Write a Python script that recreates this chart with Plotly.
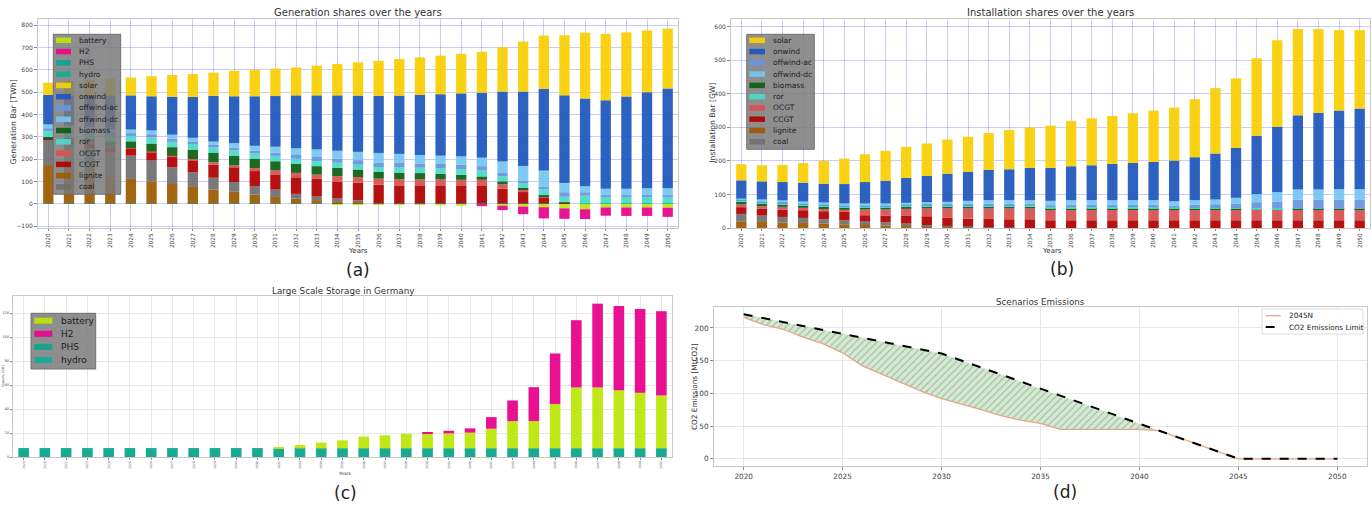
import plotly.graph_objects as go

W, H = 1372, 506
FONT = "DejaVu Sans"

years = ["2020", "2021", "2022", "2023", "2024", "2025", "2026", "2027", "2028", "2029",
         "2030", "2031", "2032", "2033", "2034", "2035", "2036", "2037", "2038", "2039",
         "2040", "2041", "2042", "2043", "2044", "2045", "2046", "2047", "2048", "2049", "2050"]

# ---------------- (a) Generation [TWh] ----------------
gen_battery = [0, 0, 0, 0, 0, 0, 0, 0, 0, 0, 0, 0, 0, 0, -3, -3, -3, -5, -5, -6, -8, -4, -8, -12, -15, -20, -24, -16, -16, -16, -17]
gen_H2 = [0, 0, 0, 0, 0, 0, 0, 0, 0, 0, 0, 0, 0, 0, 0, 0, 0, 0, 0, 0, 0, -6, -20, -34, -50, -47, -44, -37, -38, -38, -41]
gen_PHS = [1, 1, 1, 1, 1, 1, 1, 1, 1, 1, 1, 1, 1, 1, 1, 1, 1, 1, 1, 1, 1, 1, 1, 1, 1, 1, 1, 1, 1, 1, 1]
gen_hydro = [1, 1, 1, 1, 1, 1, 1, 1, 1, 1, 1, 1, 1, 1, 1, 1, 1, 1, 1, 1, 1, 1, 1, 1, 1, 1, 1, 1, 1, 1, 1]
gen_lignite = [172, 158, 143, 123, 110, 99, 87, 74, 62, 52, 40, 29, 22, 15, 7, 4, 0, 0, 0, 0, 0, 0, 0, 0, 0, 0, 0, 0, 0, 0, 0]
gen_coal = [113, 105, 105, 105, 104, 93, 75, 66, 53, 44, 38, 33, 21, 16, 15, 10, 0, 0, 0, 0, 0, 0, 0, 0, 0, 0, 0, 0, 0, 0, 0]
gen_CCGT = [5, 15, 22, 24, 32, 37, 47, 52, 59, 66, 67, 68, 74, 80, 76, 79, 84, 81, 81, 78, 78, 78, 66, 51, 25, 2, 0, 0, 0, 0, 0]
gen_OCGT = [2, 3, 3, 3, 2, 4, 5, 7, 10, 8, 13, 18, 20, 18, 24, 25, 27, 27, 27, 30, 28, 28, 20, 12, 6, 1, 0, 0, 0, 0, 0]
gen_biomass = [6, 12, 18, 23, 30, 35, 38, 42, 42, 44, 41, 41, 40, 38, 37, 34, 30, 30, 28, 25, 22, 15, 13, 8, 6, 2, 0, 0, 0, 0, 0]
gen_ror = [27, 26, 25, 25, 24, 27, 24, 25, 25, 24, 24, 24, 23, 23, 23, 22, 22, 24, 24, 25, 26, 26, 23, 20, 26, 25, 35, 29, 29, 29, 29]
gen_offwind_ac = [12, 12, 12, 12, 13, 15, 14, 12, 11, 12, 13, 15, 17, 18, 18, 20, 20, 20, 19, 19, 19, 20, 15, 12, 11, 20, 15, 11, 11, 11, 11]
gen_offwind_dc = [17, 17, 15, 19, 16, 17, 18, 16, 15, 20, 22, 26, 30, 34, 36, 37, 43, 40, 38, 37, 38, 38, 51, 65, 73, 41, 27, 26, 26, 28, 28]
gen_onwind = [132, 135, 140, 150, 153, 153, 170, 183, 205, 210, 222, 227, 237, 242, 248, 252, 256, 261, 269, 275, 282, 291, 313, 333, 366, 393, 393, 396, 413, 430, 447]
gen_solar = [55, 67, 71, 75, 80, 90, 97, 103, 104, 114, 118, 123, 125, 133, 141, 149, 157, 164, 168, 173, 177, 183, 199, 224, 239, 269, 295, 297, 287, 277, 268]

# ---------------- (b) Installation [GW] ----------------
cap_lignite = [20, 18, 16, 15, 13, 11, 9, 7, 6, 5, 3, 2, 1, 1, 0, 0, 0, 0, 0, 0, 0, 0, 0, 0, 0, 0, 0, 0, 0, 0, 0]
cap_coal = [22, 19, 17, 15, 13, 12, 10, 10, 7, 4, 4, 3, 2, 1, 0, 0, 0, 0, 0, 0, 0, 0, 0, 0, 0, 0, 0, 0, 0, 0, 0]
cap_CCGT = [20, 20, 22, 23, 24, 25, 19, 20, 23, 26, 24, 23, 24, 24, 26, 23, 23, 23, 23, 23, 23, 23, 23, 23, 23, 23, 23, 23, 23, 23, 23]
cap_OCGT = [8, 8, 8, 7, 6, 6, 17, 18, 21, 23, 27, 30, 31, 32, 32, 32, 32, 32, 32, 32, 32, 32, 32, 32, 32, 32, 32, 32, 32, 32, 32]
cap_biomass = [8, 8, 7, 7, 7, 7, 6, 6, 6, 6, 6, 6, 6, 6, 6, 4, 4, 4, 4, 4, 4, 3, 2, 2, 2, 1, 1, 2, 2, 2, 2]
cap_ror = [4, 4, 4, 4, 4, 4, 4, 4, 4, 4, 4, 4, 4, 4, 3, 3, 3, 3, 3, 3, 3, 3, 3, 3, 3, 3, 3, 1, 1, 1, 1]
cap_offwind_ac = [2, 3, 4, 3, 4, 3, 3, 3, 3, 3, 3, 4, 5, 5, 6, 6, 7, 7, 7, 7, 7, 6, 9, 11, 13, 18, 19, 26, 26, 27, 27]
cap_offwind_dc = [4, 5, 5, 5, 5, 5, 5, 5, 5, 6, 7, 9, 10, 10, 10, 13, 14, 14, 14, 14, 14, 13, 14, 14, 17, 24, 29, 31, 31, 31, 31]
cap_onwind = [54, 54, 54, 56, 56, 58, 64, 68, 74, 78, 84, 86, 90, 92, 96, 98, 101, 104, 108, 111, 114, 121, 128, 137, 149, 174, 195, 221, 228, 234, 240]
cap_solar = [48, 48, 51, 59, 68, 76, 83, 89, 93, 97, 102, 105, 110, 117, 121, 126, 135, 140, 143, 148, 153, 158, 173, 195, 207, 231, 258, 257, 250, 240, 234]

# ---------------- (c) Large scale storage ----------------
sto_PHS = [6.2, 6.2, 6.2, 6.2, 6.2, 6.2, 6.2, 6.2, 6.2, 6.2, 6.2, 6.2, 6.2, 6.2, 6.2, 6.2, 6.2, 6.2, 6.2, 6.2, 6.2, 6.2, 6.2, 6.2, 6.2, 6.2, 6.2, 6.2, 6.2, 6.2, 6.2]
sto_hydro = [1.0, 1.0, 1.0, 1.0, 1.0, 1.0, 1.0, 1.0, 1.0, 1.0, 1.0, 1.0, 1.0, 1.0, 1.0, 1.0, 1.0, 1.0, 1.0, 1.0, 1.0, 1.0, 1.0, 1.0, 1.0, 1.0, 1.0, 1.0, 1.0, 1.0, 1.0]
sto_battery = [0, 0, 0, 0, 0, 0, 0, 0, 0, 0, 0, 0, 0.4, 2.8, 4.8, 6.7, 9.8, 10.9, 12.2, 12.5, 12.5, 13.1, 16.4, 22.8, 22.8, 37.0, 50.9, 50.9, 48.6, 46.4, 44.2]
sto_H2 = [0, 0, 0, 0, 0, 0, 0, 0, 0, 0, 0, 0, 0, 0, 0, 0, 0, 0, 0, 0.9, 2.2, 3.6, 9.7, 17.2, 28.3, 42.2, 56.1, 69.9, 70.3, 70.0, 70.3]

# ---------------- (d) Emissions [MtCO2] ----------------
em_years = [2020, 2021, 2022, 2023, 2024, 2025, 2026, 2027, 2028, 2029, 2030, 2031, 2032, 2033, 2034, 2035,
            2036, 2037, 2038, 2039, 2040, 2041, 2042, 2043, 2044, 2045, 2046, 2047, 2048, 2049, 2050]
em_2045N = [216, 205, 198, 186, 176, 162, 142, 129, 116, 103, 92, 84, 75, 66, 59, 54,
            45, 45, 45, 45, 45, 43, 32, 21, 11, 0, 0, 0, 0, 0, 0]
limit_years = [2020, 2025, 2030, 2045, 2050]
limit_values = [221, 191, 161, 0, 0]

COL = {
    "battery": "#bde60a", "H2": "#e8058c", "PHS": "#0ea590", "hydro": "#12ad96",
    "solar": "#f9d002", "onwind": "#1f57bd", "offwind-ac": "#6895dd", "offwind-dc": "#74c6f2",
    "biomass": "#0c6013", "ror": "#4adbc8", "OCGT": "#d9514f", "CCGT": "#b20101",
    "lignite": "#9e5a01", "coal": "#707070",
}


def fx(p):
    return p / W


def fy(p):
    return 1 - p / H


fig = go.Figure()

gen_stack = [("battery", gen_battery), ("H2", gen_H2), ("PHS", gen_PHS), ("hydro", gen_hydro),
             ("lignite", gen_lignite), ("coal", gen_coal), ("CCGT", gen_CCGT), ("OCGT", gen_OCGT),
             ("biomass", gen_biomass), ("ror", gen_ror), ("offwind-ac", gen_offwind_ac),
             ("offwind-dc", gen_offwind_dc), ("onwind", gen_onwind), ("solar", gen_solar)]
for name, vals in gen_stack:
    fig.add_trace(go.Bar(x=years, y=vals, name=name, marker=dict(color=COL[name], line=dict(width=0)),
                         width=0.5, opacity=0.93, xaxis="x", yaxis="y", showlegend=False))

cap_stack = [("lignite", cap_lignite), ("coal", cap_coal), ("CCGT", cap_CCGT), ("OCGT", cap_OCGT),
             ("biomass", cap_biomass), ("ror", cap_ror), ("offwind-ac", cap_offwind_ac),
             ("offwind-dc", cap_offwind_dc), ("onwind", cap_onwind), ("solar", cap_solar)]
for name, vals in cap_stack:
    fig.add_trace(go.Bar(x=years, y=vals, name=name, marker=dict(color=COL[name], line=dict(width=0)),
                         width=0.5, opacity=0.93, xaxis="x2", yaxis="y2", showlegend=False))

sto_stack = [("PHS", sto_PHS), ("hydro", sto_hydro), ("battery", sto_battery), ("H2", sto_H2)]
for name, vals in sto_stack:
    fig.add_trace(go.Bar(x=years, y=vals, name=name, marker=dict(color=COL[name], line=dict(width=0)),
                         width=0.5, opacity=0.95, xaxis="x3", yaxis="y3", showlegend=False))

fig.add_trace(go.Scatter(x=em_years, y=em_2045N, mode="lines", name="2045N",
                         line=dict(color="#e8a487", width=1.3), xaxis="x4", yaxis="y4", showlegend=False))
fig.add_trace(go.Scatter(x=limit_years, y=limit_values, mode="lines", name="CO2 Emissions Limit",
                         line=dict(color="black", width=2, dash="dash"), fill="tonexty",
                         fillcolor="#d3e9d1",
                         fillpattern=dict(shape="/", fgcolor="#5f805f", bgcolor="#d3e9d1", size=5, solidity=0.2),
                         xaxis="x4", yaxis="y4", showlegend=False))

DOM = {1: ((38, 678), (19, 228)), 2: ((731, 1370), (19, 228)),
       3: ((13, 672), (296, 457)), 4: ((714, 1367), (307, 466))}

BLUEGRID = "rgba(70,70,255,0.28)"
GRAYGRID = "#e6e6e6"
FRAME = "#c8c8c8"


def xax(i, **kw):
    (x0, x1), _ = DOM[i]
    d = dict(domain=[fx(x0), fx(x1)], anchor="y" if i == 1 else "y%d" % i, showline=True, mirror=True,
             linecolor=FRAME, linewidth=1, zeroline=False, ticks="outside", ticklen=3, tickcolor="#888",
             automargin=False)
    d.update(kw)
    return d


def yax(i, **kw):
    _, (y0, y1) = DOM[i]
    d = dict(domain=[fy(y1), fy(y0)], anchor="x" if i == 1 else "x%d" % i, showline=True, mirror=True,
             linecolor=FRAME, linewidth=1, zeroline=False, ticks="outside", ticklen=3, tickcolor="#888",
             automargin=False)
    d.update(kw)
    return d


catx = dict(type="category", range=[-0.5, 30.5], tickangle=-90, showgrid=True)

fig.update_layout(
    width=W, height=H, margin=dict(l=0, r=0, t=0, b=0),
    paper_bgcolor="white", plot_bgcolor="white", barmode="relative",
    font=dict(family=FONT, color="#333"),
    xaxis=xax(1, **catx, gridcolor=BLUEGRID, tickfont=dict(size=5.8, color="#444"), ticklen=2),
    yaxis=yax(1, range=[-108, 828], dtick=100, showgrid=True, gridcolor=BLUEGRID, tickfont=dict(size=6, color="#444")),
    xaxis2=xax(2, **catx, gridcolor=BLUEGRID, tickfont=dict(size=5.8, color="#444"), ticklen=2),
    yaxis2=yax(2, range=[0, 623], dtick=100, showgrid=True, gridcolor=BLUEGRID, tickfont=dict(size=6, color="#444")),
    xaxis3=xax(3, **catx, gridcolor=GRAYGRID, tickfont=dict(size=3, color="#444"), ticklen=2),
    yaxis3=yax(3, range=[0, 134.4], dtick=20, showgrid=True, gridcolor=GRAYGRID, tickfont=dict(size=3.5, color="#444"), ticklen=2),
    xaxis4=xax(4, range=[2018.5, 2051.5], dtick=5, showgrid=True, gridcolor=GRAYGRID, tickfont=dict(size=7.3, color="#444")),
    yaxis4=yax(4, range=[-11, 232], dtick=50, showgrid=True, gridcolor=GRAYGRID, tickfont=dict(size=7.3, color="#444")),
)

ann = []
shapes = []


def text(x, y, s, size, color="#333", angle=0, xanchor="center"):
    ann.append(dict(x=fx(x), y=fy(y), xref="paper", yref="paper", text=s, showarrow=False,
                    font=dict(family=FONT, size=size, color=color), textangle=angle,
                    xanchor=xanchor, yanchor="middle"))


# titles
text(358, 13, "Generation shares over the years", 10)
text(1050, 13, "Installation shares over the years", 10)
text(342.5, 291, "Large Scale Storage in Germany", 8.8)
text(1040, 302, "Scenarios Emissions", 8.7)
# axis labels
text(13, 122.5, "Generation Bar [TWh]", 7.8, angle=-90)
text(711.7, 123, "Installation Bar [GW]", 7.7, angle=-90)
text(3, 376, "Capacity [GW]", 3, angle=-90)
text(694, 387, "CO2 Emissions [MtCO2]", 7.3, angle=-90)
text(358, 251, "Years", 7)
text(1052, 251, "Years", 7)
text(345, 473, "Years", 4.5)
# panel letters
text(358, 270, "(a)", 17, color="#222")
text(1062, 269, "(b)", 17, color="#222")
text(345, 493, "(c)", 17, color="#222")
text(1065, 492, "(d)", 17, color="#222")


def box_legend(box, names, y_first, step, sw_x, sw_w, sw_h, tx, fsize):
    (bx0, bx1), (by0, by1) = box
    shapes.append(dict(type="rect", xref="paper", yref="paper", x0=fx(bx0), x1=fx(bx1), y0=fy(by1), y1=fy(by0),
                       fillcolor="rgba(122,122,122,0.85)", line=dict(color="rgba(105,105,105,0.9)", width=1),
                       layer="above"))
    for k, n in enumerate(names):
        yc = y_first + k * step
        shapes.append(dict(type="rect", xref="paper", yref="paper", x0=fx(sw_x), x1=fx(sw_x + sw_w),
                           y0=fy(yc + sw_h / 2), y1=fy(yc - sw_h / 2), fillcolor=COL[n],
                           line=dict(width=0), opacity=0.92, layer="above"))
        text(tx, yc, n, fsize, color="#1c1c1c", xanchor="left")


box_legend(((53.3, 120.7), (34.3, 194.3)),
           ["battery", "H2", "PHS", "hydro", "solar", "onwind", "offwind-ac", "offwind-dc",
            "biomass", "ror", "OCGT", "CCGT", "lignite", "coal"],
           40.3, 11.28, 56, 15, 5.5, 77.3, 7.5)
box_legend(((746.7, 814.3), (34.3, 149.3)),
           ["solar", "onwind", "offwind-ac", "offwind-dc", "biomass", "ror", "OCGT", "CCGT", "lignite", "coal"],
           40.3, 11.27, 749.3, 15.7, 5.5, 771, 7.5)
box_legend(((31, 95.7), (313.3, 369)), ["battery", "H2", "PHS", "hydro"],
           320.7, 13.1, 34.3, 18, 6, 59, 9)

# legend (d)
shapes.append(dict(type="rect", xref="paper", yref="paper", x0=fx(1262), x1=fx(1363), y0=fy(334), y1=fy(309),
                   fillcolor="rgba(255,255,255,0.85)", line=dict(color="#dddddd", width=1), layer="above"))
shapes.append(dict(type="line", xref="paper", yref="paper", x0=fx(1265.7), x1=fx(1280.7), y0=fy(315.7), y1=fy(315.7),
                   line=dict(color="#e8a487", width=1.3), layer="above"))
shapes.append(dict(type="line", xref="paper", yref="paper", x0=fx(1265.7), x1=fx(1280.7), y0=fy(327), y1=fy(327),
                   line=dict(color="black", width=2, dash="dash"), layer="above"))
text(1286.7, 315.7, "2045N", 7.3, color="#222", xanchor="left")
text(1286.7, 327, "CO2 Emissions Limit", 7.3, color="#222", xanchor="left")

fig.update_layout(annotations=ann, shapes=shapes)
fig.write_html(
    "out.html",
    config={"displayModeBar": False},
    post_script="document.documentElement.style.margin='0';document.documentElement.style.overflow='hidden';"
                "document.body.style.margin='0';document.body.style.overflow='hidden';",
)
